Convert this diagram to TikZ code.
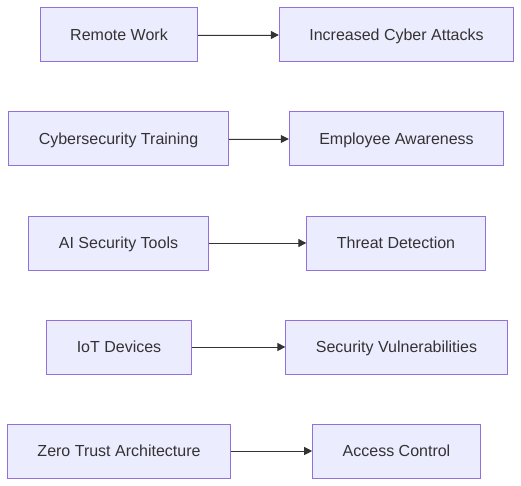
\documentclass[tikz,border=0pt]{standalone}
\usepackage{fontspec}
\setmainfont{Liberation Sans}
\usetikzlibrary{arrows.meta, positioning}
\definecolor{boxfill}{HTML}{ECECFF}
\definecolor{boxline}{HTML}{9370DB}
\definecolor{ink}{HTML}{333333}

\begin{document}
\begin{tikzpicture}[
    x=1pt, y=-1pt,
    box/.style={rectangle, draw=boxline, fill=boxfill, line width=1pt, minimum height=54pt, inner xsep=30pt, text height=11.5pt, text depth=0pt, text=ink, font=\fontsize{16}{19}\selectfont},
    arrow/.style={-{Triangle[length=8pt, width=8pt]}, draw=ink, fill=ink, line width=0.9pt}
]
\useasboundingbox (0,0) rectangle (521,486);

% Row 1
\node[box] (remote) at (119,35) {Remote Work};
\node[box] (attacks) at (396.5,35) {Increased Cyber Attacks};
\draw[arrow] (remote) -- (attacks);

% Row 2
\node[box] (training) at (118.5,139) {Cybersecurity Training};
\node[box] (awareness) at (396.5,139) {Employee Awareness};
\draw[arrow] (training) -- (awareness);

% Row 3
\node[box] (aitools) at (118.5,243) {AI Security Tools};
\node[box] (detection) at (396,243) {Threat Detection};
\draw[arrow] (aitools) -- (detection);

% Row 4
\node[box] (iot) at (119,347) {IoT Devices};
\node[box] (vulns) at (396.5,347) {Security Vulnerabilities};
\draw[arrow] (iot) -- (vulns);

% Row 5
\node[box] (zerotrust) at (119,451) {Zero Trust Architecture};
\node[box] (access) at (396.5,451) {Access Control};
\draw[arrow] (zerotrust) -- (access);

\end{tikzpicture}
\end{document}
